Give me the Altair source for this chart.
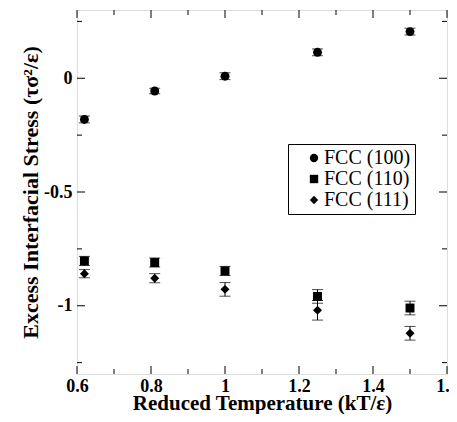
import altair as alt
import pandas as pd

# Data
temps = [0.62, 0.81, 1.0, 1.25, 1.5]
s100 = [-0.181, -0.056, 0.009, 0.114, 0.205]
e100 = [0.015, 0.012, 0.015, 0.015, 0.015]
s110 = [-0.803, -0.810, -0.847, -0.959, -1.010]
e110 = [0.02, 0.02, 0.02, 0.03, 0.03]
s111 = [-0.859, -0.879, -0.928, -1.020, -1.121]
e111 = [0.018, 0.02, 0.03, 0.043, 0.03]
series_names = ["FCC (100)", "FCC (110)", "FCC (111)"]
shapes = ["circle", "square", "diamond"]

x_major = [0.6, 0.8, 1.0, 1.2, 1.4, 1.6]
x_minor = [0.7, 0.9, 1.1, 1.3, 1.5]
y_major = [-1.0, -0.5, 0.0]
y_minor = [-1.25, -0.75, -0.25, 0.25]

W, H = 370, 364
FONT = "Liberation Serif"

rows = []
for name, vals, errs in zip(series_names, [s100, s110, s111], [e100, e110, e111]):
    for t, v, e in zip(temps, vals, errs):
        rows.append({"series": name, "t": t, "v": v, "lo": v - e, "hi": v + e})
df = pd.DataFrame(rows)

xscale = alt.Scale(domain=[0.6, 1.6], nice=False, zero=False)
yscale = alt.Scale(domain=[-1.3, 0.3], nice=False, zero=False)

xaxis = alt.Axis(values=x_major, labelExpr="toString(datum.value)", grid=False,
                 ticks=False, domain=False, labelFont=FONT, labelFontSize=18,
                 labelFontWeight="bold", labelColor="black", labelPadding=17,
                 labelBaseline="alphabetic",
                 title="Reduced Temperature (kT/ε)", titleFont=FONT, titleFontSize=21,
                 titleFontWeight="bold", titleColor="black",
                 titleBaseline="alphabetic", titleX=W / 2, titleY=35,
                 labelFlush=False, labelOverlap=False)
yaxis = alt.Axis(values=y_major, labelExpr="toString(datum.value)", grid=False,
                 ticks=False, domain=False, labelFont=FONT, labelFontSize=18,
                 labelFontWeight="bold", labelColor="black", labelPadding=5,
                 title="Excess Interfacial Stress (τσ²/ε)", titleFont=FONT, titleFontSize=22,
                 titleFontWeight="bold", titleColor="black",
                 titleBaseline="alphabetic", titleX=-40, titleY=H / 2,
                 labelFlush=False, labelOverlap=False)

base = alt.Chart(df)

err = base.mark_errorbar(ticks={"size": 11, "thickness": 1}, rule={"strokeWidth": 1},
                         color="black").encode(
    x=alt.X("t:Q", scale=xscale, axis=xaxis),
    y=alt.Y("lo:Q", scale=yscale, axis=yaxis),
    y2="hi:Q",
)

pts = base.mark_point(filled=True, opacity=1, color="black", size=80).encode(
    x=alt.X("t:Q", scale=xscale),
    y=alt.Y("v:Q", scale=yscale),
    shape=alt.Shape("series:N", scale=alt.Scale(domain=series_names, range=shapes),
                    legend=alt.Legend(title=None, orient="none", legendX=211, legendY=134,
                                      fillColor="white", strokeColor="black", padding=4,
                                      labelFont=FONT, labelFontSize=20, labelColor="black",
                                      symbolSize=70, symbolFillColor="black",
                                      symbolStrokeColor="black", symbolOffset=12,
                                      labelOffset=0, rowPadding=1, cornerRadius=0)),
)

def xticks(vals, length):
    d = pd.DataFrame({"t": vals})
    c = alt.Chart(d)
    bot = c.mark_rule(color="black", strokeWidth=1).encode(
        x=alt.X("t:Q", scale=xscale), y=alt.value(H), y2=alt.value(H - length))
    top = c.mark_rule(color="black", strokeWidth=1).encode(
        x=alt.X("t:Q", scale=xscale), y=alt.value(0), y2=alt.value(length))
    return [bot, top]

def yticks(vals, length):
    d = pd.DataFrame({"v": vals})
    c = alt.Chart(d)
    left = c.mark_rule(color="black", strokeWidth=1).encode(
        y=alt.Y("v:Q", scale=yscale), x=alt.value(0), x2=alt.value(length))
    right = c.mark_rule(color="black", strokeWidth=1).encode(
        y=alt.Y("v:Q", scale=yscale), x=alt.value(W), x2=alt.value(W - length))
    return [left, right]

layers = [err, pts] + xticks(x_major, 8) + xticks(x_minor, 5) + yticks(y_major, 8) + yticks(y_minor, 5)

chart = alt.layer(*layers).properties(
    width=W, height=H,
    autosize=alt.AutoSizeParams(type="none"),
    padding={"left": 69, "top": 2, "right": 2, "bottom": 40},
).configure_view(stroke="black", strokeWidth=1.3).configure(background="white")

chart.save("out.html", embed_options={"renderer": "svg", "actions": False})
